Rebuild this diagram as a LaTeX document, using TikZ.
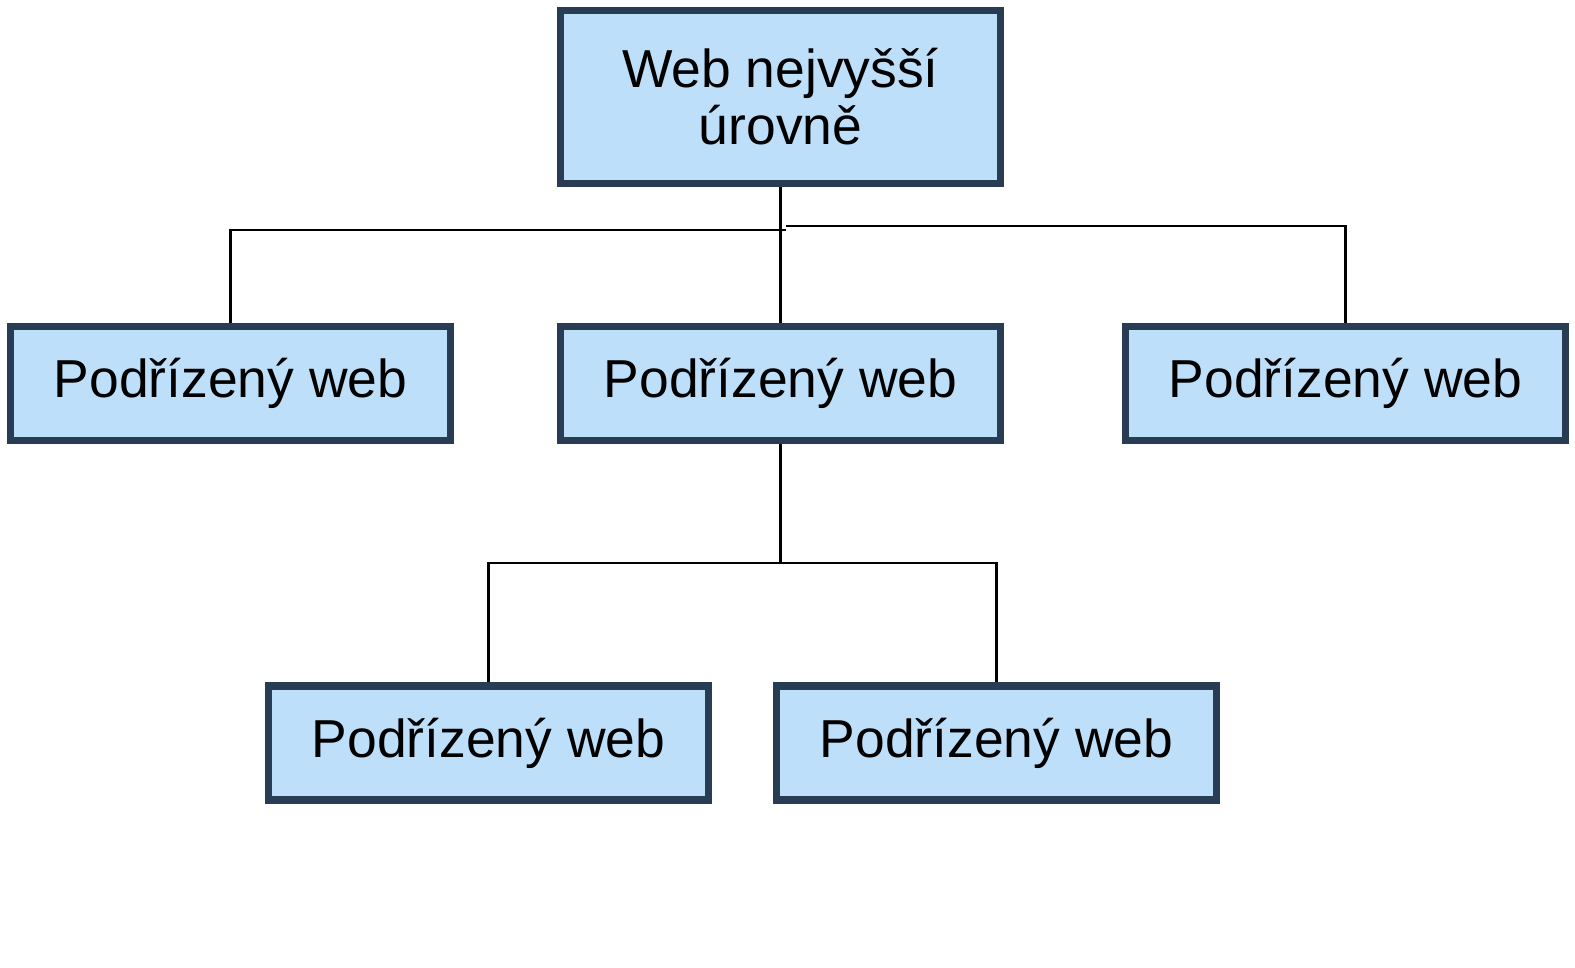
\documentclass[tikz,border=0pt]{standalone}
\usepackage{fontspec}
\setmainfont{Liberation Sans}
\usepackage{tikz}
\definecolor{boxfill}{HTML}{BDDFF9}
\definecolor{boxline}{HTML}{283C54}
\tikzstyle{site} = [draw=boxline, fill=boxfill, line width=4pt, minimum width=8.8cm, minimum height=2.28cm, align=center, font=\fontsize{30.4}{32.5}\selectfont]
\tikzstyle{link} = [draw, line width=1.3pt]

\begin{document}
\begin{tikzpicture}
\useasboundingbox (0,0) rectangle (31.5,-19.34);

\node [site, minimum height=3.46cm] at (15.61, -1.94) (top) {Web nejvyšší\\úrovně};

\node [site] at (4.61, -7.67) (subA) {Podřízený web};
\node [site] at (15.61, -7.67) (subB) {Podřízený web};
\node [site] at (26.91, -7.67) (subC) {Podřízený web};

\node [site] at (9.77, -14.86) (subBA) {Podřízený web};
\node [site] at (19.93, -14.86) (subBB) {Podřízený web};

% upper level
\coordinate (forkA) at (15.72, -4.60);
\coordinate (forkC) at (15.72, -4.52);
\path [link] (top.south) -- (subB.north);
\path [link] (forkA) -| (subA.north);
\path [link] (forkC) -| (subC.north);

% lower level
\coordinate (forkB) at (15.61, -11.26);
\path [link] (subB.south) -- (forkB);
\path [link] (forkB) -| (subBA.north);
\path [link] (forkB) -| (subBB.north);
\end{tikzpicture}
\end{document}
